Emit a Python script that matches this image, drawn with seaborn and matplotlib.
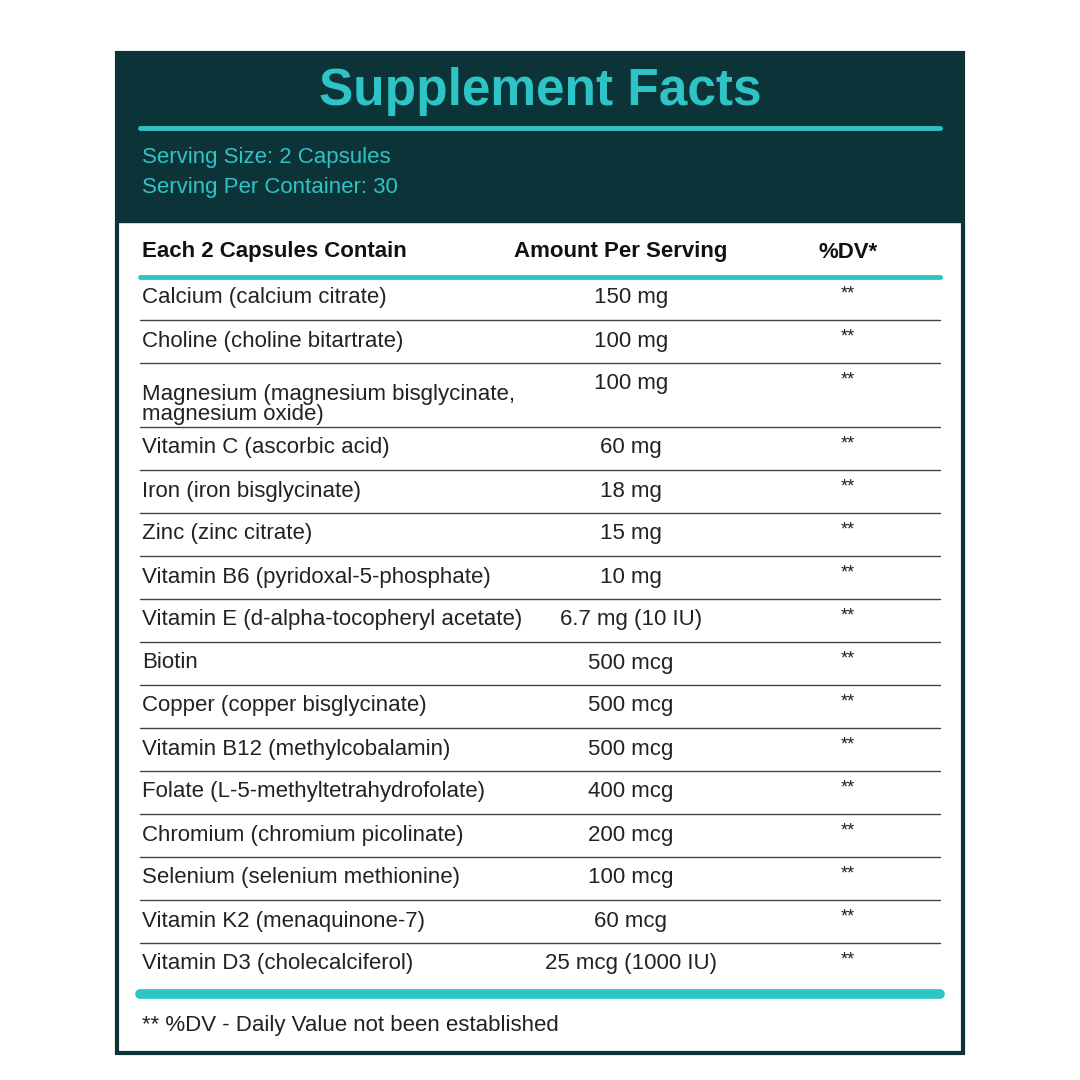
import matplotlib
matplotlib.use("Agg")
import matplotlib.pyplot as plt
import seaborn as sns

sns.set_theme(style="white")
plt.rcParams['font.family'] = ['Liberation Sans Narrow', 'Liberation Sans', 'DejaVu Sans']

title = "Supplement Facts"
serving = ["Serving Size: 2 Capsules", "Serving Per Container: 30"]
headers = ["Each 2 Capsules Contain", "Amount Per Serving", "%DV*"]
ingredients = ["Calcium (calcium citrate)", "Choline (choline bitartrate)",
               "Magnesium (magnesium bisglycinate,\nmagnesium oxide)", "Vitamin C (ascorbic acid)",
               "Iron (iron bisglycinate)", "Zinc (zinc citrate)", "Vitamin B6 (pyridoxal-5-phosphate)",
               "Vitamin E (d-alpha-tocopheryl acetate)", "Biotin", "Copper (copper bisglycinate)",
               "Vitamin B12 (methylcobalamin)", "Folate (L-5-methyltetrahydrofolate)",
               "Chromium (chromium picolinate)", "Selenium (selenium methionine)",
               "Vitamin K2 (menaquinone-7)", "Vitamin D3 (cholecalciferol)"]
amounts = ["150 mg", "100 mg", "100 mg", "60 mg", "18 mg", "15 mg", "10 mg", "6.7 mg (10 IU)",
           "500 mcg", "500 mcg", "500 mcg", "400 mcg", "200 mcg", "100 mcg", "60 mcg", "25 mcg (1000 IU)"]
dv = ["**"] * len(ingredients)
footnote = "** %DV - Daily Value not been established"

DARK = "#0b3338"
TEAL = "#2ec4c6"

fig = plt.figure(figsize=(10.8, 10.8), dpi=100)
ax = fig.add_axes([0, 0, 1, 1])
ax.set_xlim(0, 1080); ax.set_ylim(1080, 0); ax.axis("off")
fig.patch.set_facecolor("white")

ax.add_patch(plt.Rectangle((117, 53), 846, 1000, fill=False, ec=DARK, lw=3))
ax.add_patch(plt.Rectangle((117, 53), 846, 169, fc=DARK, ec=DARK))
ax.text(540, 92, title, ha="center", va="center", color=TEAL, fontsize=37, fontweight="bold",
        family=['Liberation Sans', 'DejaVu Sans'])
ax.plot([140, 940], [128, 128], color=TEAL, lw=3.5)
ax.text(142, 157, serving[0], ha="left", va="center", color=TEAL, fontsize=16)
ax.text(142, 188, serving[1], ha="left", va="center", color=TEAL, fontsize=16)

ax.text(142, 252, headers[0], ha="left", va="center", color="#111", fontsize=16, fontweight="bold")
ax.text(621, 252, headers[1], ha="center", va="center", color="#111", fontsize=16, fontweight="bold")
ax.text(848, 252, headers[2], ha="center", va="center", color="#111", fontsize=16, fontweight="bold")
ax.plot([140, 940], [277, 277], color=TEAL, lw=3.5)

bounds = [277, 320, 363, 427, 470, 513, 556, 599, 642, 685, 728, 771, 814, 857, 900, 943, 986]
for i, (ing, am, d) in enumerate(zip(ingredients, amounts, dv)):
    top = bounds[i]
    ty = top + 21
    ax.text(142, ty, ing, ha="left", va="top" if "\n" in ing else "center", color="#222", fontsize=16,
            linespacing=0.95) if "\n" in ing else ax.text(142, ty, ing, ha="left", va="center", color="#222", fontsize=16)
    if "\n" in ing:
        pass
    ax.text(631, ty, am, ha="center", va="center", color="#222", fontsize=16)
    ax.text(848, ty - 4, d, ha="center", va="center", color="#222", fontsize=13)
    if i < len(ingredients) - 1:
        ax.plot([140, 940], [bounds[i + 1], bounds[i + 1]], color="#444", lw=1)

ax.plot([140, 940], [994, 994], color=TEAL, lw=7)
ax.text(142, 1025, footnote, ha="left", va="center", color="#222", fontsize=16)

fig.savefig("out.png", dpi=100)
